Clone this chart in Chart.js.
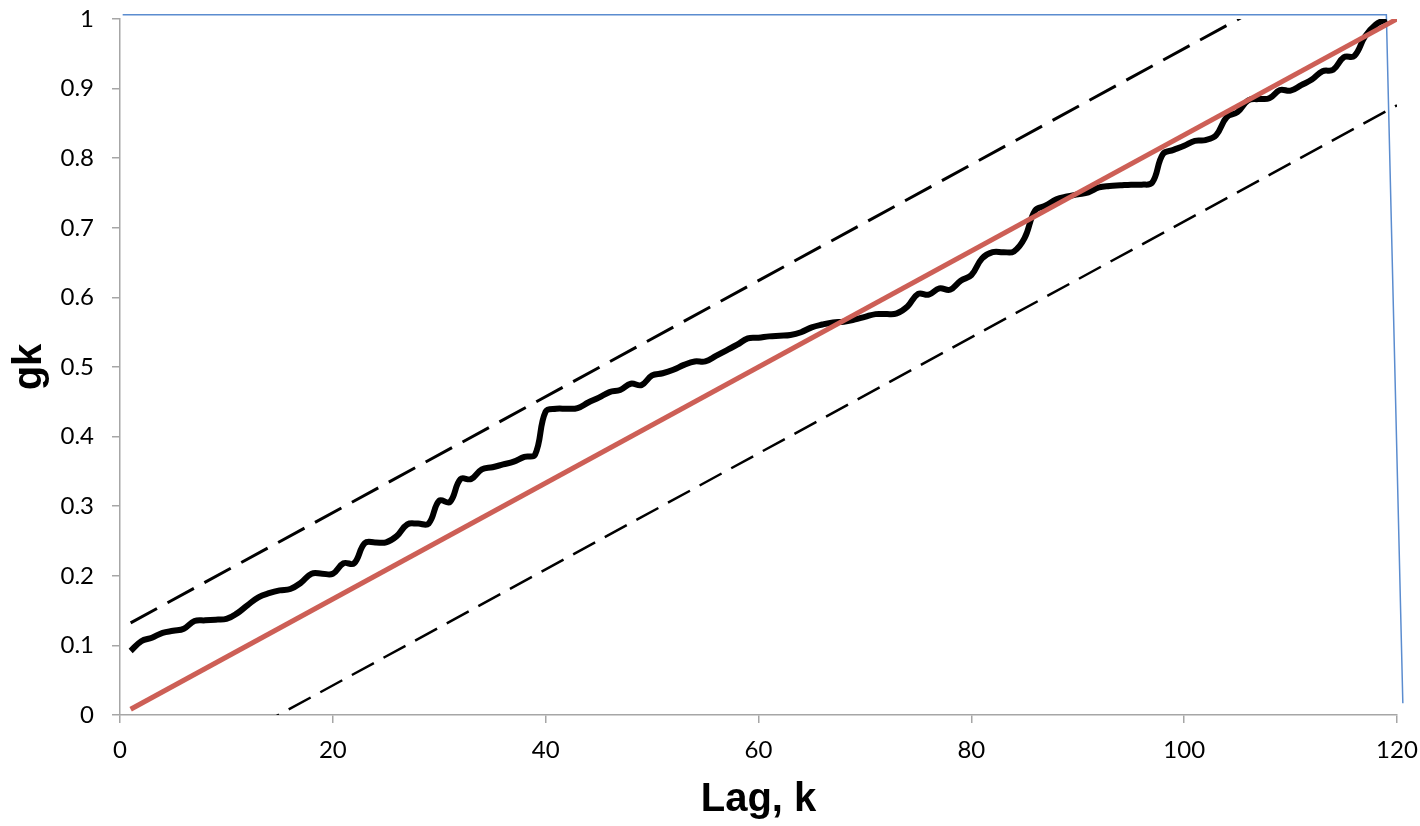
<!DOCTYPE html>
<html lang="en">
<head>
    <meta charset="UTF-8">
    <title>Cumulative periodogram</title>
    <script src="https://cdn.jsdelivr.net/npm/chart.js"></script>
    <style>
        body { margin: 0; background: #fff; }
        #wrap { width: 1420px; height: 826px; }
    </style>
</head>
<body>
    <div id="wrap"><canvas id="gkChart" width="1420" height="826"></canvas></div>

    <script>
        // cumulative periodogram g(k)
        const lagK = [1, 2, 3, 4, 5, 6, 7, 8, 9, 10, 11, 12, 13, 14, 15, 16, 17, 18, 19, 20,
            21, 22, 23, 24, 25, 26, 27, 28, 29, 30, 31, 32, 33, 34, 35, 36, 37, 38, 39, 40,
            41, 42, 43, 44, 45, 46, 47, 48, 49, 50, 51, 52, 53, 54, 55, 56, 57, 58, 59, 60,
            61, 62, 63, 64, 65, 66, 67, 68, 69, 70, 71, 72, 73, 74, 75, 76, 77, 78, 79, 80,
            81, 82, 83, 84, 85, 86, 87, 88, 89, 90, 91, 92, 93, 94, 95, 96, 97, 98, 99, 100,
            101, 102, 103, 104, 105, 106, 107, 108, 109, 110, 111, 112, 113, 114, 115, 116, 117, 118, 119];
        const gk = [0.092, 0.106, 0.111, 0.118, 0.121, 0.124, 0.135, 0.136, 0.137, 0.138,
            0.146, 0.158, 0.169, 0.175, 0.179, 0.181, 0.190, 0.203, 0.203, 0.203,
            0.218, 0.218, 0.247, 0.248, 0.248, 0.257, 0.274, 0.275, 0.275, 0.308,
            0.306, 0.339, 0.339, 0.353, 0.356, 0.360, 0.364, 0.371, 0.374, 0.436,
            0.440, 0.440, 0.441, 0.449, 0.456, 0.464, 0.467, 0.476, 0.474, 0.488,
            0.491, 0.496, 0.503, 0.508, 0.508, 0.516, 0.524, 0.532, 0.541, 0.542,
            0.544, 0.545, 0.546, 0.550, 0.557, 0.561, 0.564, 0.565, 0.568, 0.572,
            0.576, 0.576, 0.577, 0.587, 0.605, 0.604, 0.613, 0.611, 0.624, 0.632,
            0.656, 0.665, 0.665, 0.666, 0.685, 0.725, 0.732, 0.741, 0.745, 0.748,
            0.751, 0.758, 0.760, 0.761, 0.762, 0.762, 0.765, 0.806, 0.812, 0.818,
            0.825, 0.826, 0.833, 0.859, 0.866, 0.883, 0.885, 0.886, 0.898, 0.897,
            0.905, 0.913, 0.925, 0.927, 0.945, 0.947, 0.975, 0.992, 1.000];

        // white-noise reference line and its two bounds
        const refX = [1, 120];
        const refY = [0.0083, 1];
        const upperX = [1, 120];
        const upperY = [0.1324, 1.1241];
        const lowerX = [1, 120];
        const lowerY = [-0.1158, 0.8759];

        // blue frame line
        const frameX = [0.25, 119, 120.55];
        const frameY = [1.006, 1.006, 0.017];

        const xTicks = ['0', '20', '40', '60', '80', '100', '120'];
        const yTicks = ['0', '0.1', '0.2', '0.3', '0.4', '0.5', '0.6', '0.7', '0.8', '0.9', '1'];

        const pts = (xs, ys) => xs.map((x, i) => ({ x: x, y: ys[i] }));
        const axisGrey = '#a6a6a6';
        const tickFont = { family: 'Lato', size: 24 };

        const ctx = document.getElementById('gkChart').getContext('2d');
        new Chart(ctx, {
            type: 'scatter',
            data: {
                datasets: [
                    {
                        label: 'reference',
                        data: pts(refX, refY),
                        borderColor: '#cd5f56',
                        borderWidth: 5,
                        order: 1,
                    },
                    {
                        label: 'gk',
                        data: pts(lagK, gk),
                        borderColor: '#000000',
                        borderWidth: 6,
                        tension: 0.4,
                        order: 2,
                    },
                    {
                        label: 'upper',
                        data: pts(upperX, upperY),
                        borderColor: '#000000',
                        borderWidth: 3,
                        borderDash: [30, 12],
                        order: 3,
                    },
                    {
                        label: 'lower',
                        data: pts(lowerX, lowerY),
                        borderColor: '#000000',
                        borderWidth: 2.5,
                        borderDash: [25, 11],
                        order: 4,
                    },
                    {
                        label: 'frame',
                        data: pts(frameX, frameY),
                        borderColor: '#5b8ccf',
                        borderWidth: 1.5,
                        clip: false,
                        order: 5,
                    },
                ],
            },
            options: {
                responsive: false,
                animation: false,
                showLine: true,
                elements: { point: { radius: 0, hoverRadius: 0 } },
                layout: { padding: { top: 19, right: 23, left: 0, bottom: 0 } },
                plugins: { legend: { display: false }, tooltip: { enabled: false } },
                scales: {
                    x: {
                        type: 'linear',
                        min: 0,
                        max: 120,
                        afterFit: (s) => { s.height = 111; s.paddingLeft = 0; s.paddingRight = 0; },
                        border: { display: true, color: axisGrey, width: 1.5 },
                        grid: { drawOnChartArea: false, drawTicks: true, tickLength: 8, color: axisGrey, lineWidth: 1.5 },
                        ticks: {
                            stepSize: 20,
                            autoSkip: false,
                            maxRotation: 0,
                            padding: 13,
                            color: '#000',
                            font: tickFont,
                            callback: (v, i) => xTicks[i],
                        },
                        title: {
                            display: true,
                            text: 'Lag, k',
                            color: '#000',
                            font: { family: 'Liberation Sans', size: 40, weight: 'bold' },
                            padding: { top: 2, bottom: 2 },
                        },
                    },
                    y: {
                        type: 'linear',
                        min: 0,
                        max: 1,
                        afterFit: (s) => { s.width = 120; s.paddingTop = 0; s.paddingBottom = 0; },
                        border: { display: true, color: axisGrey, width: 1.5 },
                        grid: { drawOnChartArea: false, drawTicks: true, tickLength: 8, color: axisGrey, lineWidth: 1.5 },
                        ticks: {
                            stepSize: 0.1,
                            autoSkip: false,
                            padding: 18,
                            color: '#000',
                            font: tickFont,
                            callback: (v, i) => yTicks[i],
                        },
                        title: {
                            display: true,
                            text: 'gk',
                            color: '#000',
                            font: { family: 'Liberation Sans', size: 40, weight: 'bold' },
                            padding: { top: 6, bottom: 0 },
                        },
                    },
                },
            },
        });
    </script>
</body>
</html>
